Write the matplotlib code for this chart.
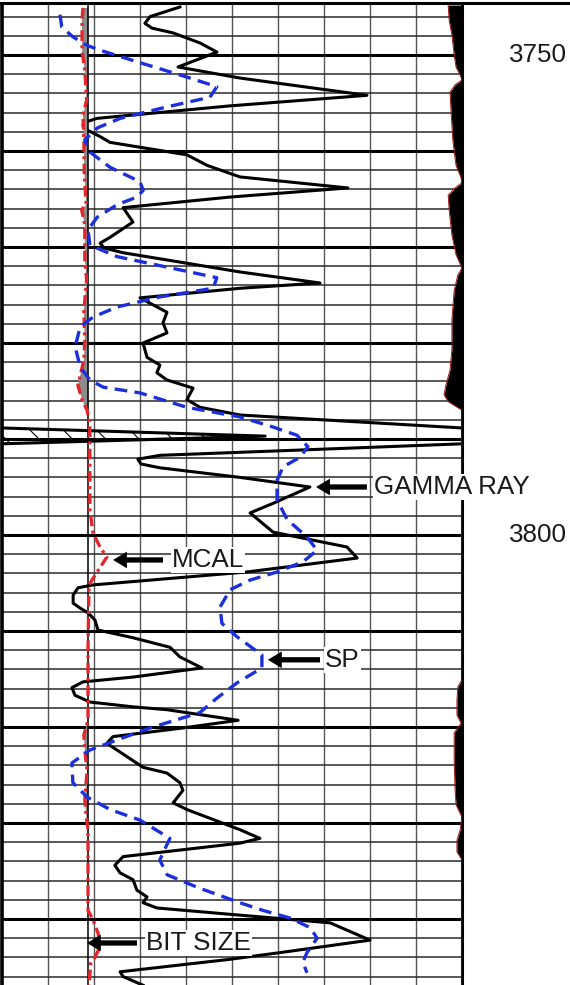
import numpy as np
import matplotlib.pyplot as plt

plt.rcParams['font.family'] = ['Liberation Sans', 'DejaVu Sans']
plt.rcParams['hatch.linewidth'] = 0.8

# ---- data read off the log ----
# gamma ray (API, 0-150 with 150-300 backup)
gr_depth = [3745.0, 3746.0, 3746.7, 3747.2, 3747.7, 3748.75, 3749.7, 3751.25, 3752.4, 3754.2,
            3755.3, 3756.25, 3756.6, 3757.0, 3757.3, 3757.8, 3758.5, 3759.1, 3760.4, 3761.5,
            3762.7, 3763.85, 3764.8, 3765.9, 3767.4, 3769.0, 3769.6, 3770.1, 3770.6, 3771.35,
            3772.6, 3773.75, 3774.3, 3775.3, 3776.8, 3777.9, 3778.95, 3780.0, 3781.5, 3782.3,
            3783.1, 3783.85, 3784.7, 3785.9, 3786.7, 3787.5, 3788.85, 3789.7, 3790.5, 3791.15,
            3791.7, 3792.1, 3792.6, 3793.0, 3794.0, 3795.0, 3796.7, 3797.7, 3799.7, 3801.25,
            3802.4, 3803.85, 3805.2, 3805.5, 3806.25, 3807.1, 3807.6, 3808.1, 3808.85, 3809.9,
            3810.7, 3811.7, 3812.7, 3813.85, 3814.8, 3815.3, 3815.9, 3816.7, 3817.4, 3817.9,
            3818.2, 3819.3, 3820.1, 3821.0, 3821.7, 3823.1, 3824.2, 3824.8, 3825.8, 3826.6,
            3827.9, 3828.6, 3829.4, 3830.7, 3831.6, 3832.1, 3833.5, 3834.4, 3835.2, 3835.9,
            3837.0, 3837.7, 3838.3, 3838.85, 3839.6, 3840.4, 3842.2, 3843.5, 3844.2, 3845.5,
            3846.0, 3846.9]
gr = [58.0, 48.3, 46.6, 48.9, 55.8, 64.6, 70.1, 57.4, 77.6, 119.0,
      74.3, 42.7, 31.0, 27.1, 26.4, 27.7, 32.0, 35.2, 60.3, 66.9,
      77.6, 112.8, 74.3, 39.5, 42.7, 35.2, 32.0, 33.3, 39.5, 53.8,
      77.6, 103.7, 77.6, 45.0, 53.8, 52.5, 53.8, 46.0, 47.3, 51.5,
      50.5, 53.8, 62.3, 60.3, 64.6, 77.6, 150.0, 235.8, 150.0, 97.2,
      51.5, 44.3, 45.3, 51.5, 77.6, 100.4, 88.4, 80.9, 88.4, 112.5,
      115.8, 79.9, 29.7, 24.8, 23.2, 23.2, 25.4, 28.0, 30.3, 31.3,
      42.7, 54.8, 58.0, 65.2, 42.7, 26.4, 22.8, 23.8, 28.7, 42.7,
      53.8, 77.0, 59.0, 36.2, 34.2, 40.8, 46.0, 53.8, 58.0, 59.0,
      55.8, 60.3, 66.9, 77.6, 84.1, 77.6, 39.5, 36.8, 38.5, 42.7,
      44.0, 47.3, 46.0, 50.5, 77.6, 107.0, 120.0, 90.7, 74.3, 38.5,
      39.5, 46.0]

# SP (mV, -80 to 20)
sp_depth = [3745.8, 3747.1, 3748.1, 3749.0, 3749.5, 3750.8, 3752.3, 3753.3, 3754.4, 3755.4,
            3756.6, 3757.6, 3758.85, 3760.1, 3761.7, 3763.2, 3764.1, 3764.8, 3765.6, 3766.9,
            3768.2, 3769.8, 3771.0, 3772.1, 3773.2, 3774.3, 3775.2, 3776.25, 3777.3, 3778.3,
            3780.4, 3782.5, 3783.85, 3784.6, 3785.2, 3786.7, 3787.7, 3788.75, 3789.6, 3790.8,
            3791.9, 3792.9, 3794.3, 3796.35, 3798.4, 3800.2, 3801.6, 3802.8, 3803.85, 3804.7,
            3805.7, 3807.5, 3809.2, 3810.6, 3812.5, 3813.85, 3815.4, 3817.0, 3818.5, 3820.1,
            3821.35, 3822.4, 3823.75, 3825.8, 3827.3, 3828.6, 3829.7, 3831.6, 3833.85, 3835.4,
            3836.8, 3838.3, 3839.1, 3839.9, 3840.9, 3842.0, 3843.5, 3844.5, 3845.6]
sp = [-67.4, -67.0, -64.6, -61.5, -58.7, -50.0, -39.8, -33.3, -34.8, -44.1,
      -54.3, -59.3, -62.0, -60.9, -56.5, -50.0, -49.3, -50.7, -55.0, -59.3,
      -61.3, -60.9, -55.0, -44.1, -33.3, -34.1, -45.7, -55.0, -60.2, -63.0,
      -64.1, -63.0, -60.9, -58.0, -50.0, -39.8, -28.3, -21.1, -15.9, -13.5,
      -15.2, -18.9, -20.2, -20.2, -18.0, -13.7, -11.5, -14.6, -20.2, -26.1,
      -30.4, -32.6, -32.2, -28.9, -23.5, -23.5, -28.9, -33.3, -37.0, -47.8,
      -55.0, -60.9, -64.8, -64.6, -61.5, -56.5, -50.0, -43.5, -45.7, -44.1,
      -37.0, -28.3, -23.3, -17.4, -13.0, -11.5, -13.7, -14.6, -13.7]

# micro caliper (in, 6-16) and bit size
bit_size = 7.875
mcal_depth = [3745.1, 3746.35, 3749.5, 3751.6, 3754.7, 3756.25, 3758.85, 3762.5, 3765.6, 3766.1,
              3767.7, 3771.35, 3773.4, 3776.6, 3779.7, 3781.8, 3784.4, 3785.9, 3787.0, 3788.5,
              3792.2, 3797.4, 3799.8, 3801.25, 3802.3, 3803.4, 3804.2, 3805.2, 3812.0, 3819.3,
              3820.8, 3822.4, 3824.5, 3827.6, 3829.2, 3830.7, 3839.1, 3840.1, 3841.5, 3842.9,
              3844.0, 3844.6, 3846.9]
mcal = [7.76, 7.74, 7.74, 7.80, 7.84, 7.76, 7.78, 7.79, 7.83, 7.73,
        7.80, 7.80, 7.84, 7.78, 7.80, 7.78, 7.65, 7.74, 7.85, 7.91,
        7.91, 7.91, 7.98, 8.13, 8.28, 8.13, 8.02, 7.89, 7.87, 7.87,
        7.78, 7.80, 7.85, 7.80, 7.83, 7.87, 7.87, 7.98, 8.09, 8.13,
        8.02, 7.93, 7.89]

# right-hand shaded curve (chart divisions, 0-10)
rt_depth = [3744.8, 3746.35, 3747.9, 3750.0, 3751.25, 3752.1, 3752.6, 3753.1, 3753.85, 3755.7,
            3758.85, 3761.5, 3762.8, 3763.3, 3763.85, 3764.6, 3766.1, 3768.75, 3770.8, 3772.2,
            3772.9, 3774.5, 3777.6, 3780.7, 3782.8, 3784.4, 3785.4, 3786.1, 3787.0, 3815.1,
            3815.8, 3817.2, 3818.75, 3819.6, 3820.6, 3823.4, 3826.6, 3828.1, 3829.4, 3830.7,
            3831.8, 3833.0, 3833.85, 3846.9]
rt = [9.70, 9.72, 9.78, 9.83, 9.87, 9.96, 10.0, 9.85, 9.74, 9.76,
      9.80, 9.87, 9.98, 10.0, 9.85, 9.70, 9.72, 9.78, 9.87, 10.0,
      9.91, 9.83, 9.78, 9.78, 9.74, 9.65, 9.61, 9.70, 10.0, 10.0,
      9.91, 9.89, 9.89, 9.98, 9.83, 9.83, 9.85, 9.87, 10.0, 9.96,
      9.89, 9.89, 10.0, 10.0]

depth_labels = [3750, 3800]

# curve labels: text, depth, arrow tip, arrow tail, text start (GR scale)
labels = ['GAMMA RAY', 'MCAL', 'SP', 'BIT SIZE']
label_depth = [3795.0, 3802.6, 3813.0, 3842.5]
label_tip = [102.4, 36.2, 86.7, 27.7]
label_tail = [119.0, 52.5, 103.7, 44.0]
label_x = [121.3, 55.4, 105.3, 47.0]

gr = np.array(gr)
gr_depth = np.array(gr_depth)
mcal = np.array(mcal)
mcal_depth = np.array(mcal_depth)

fig = plt.figure(figsize=(5.7, 9.85), dpi=100)
ax = fig.add_axes([2 / 570, 0, 460 / 570, 980 / 985])
ax.set_xlim(0, 150)
ax.set_ylim(3800 + 450 / 9.6, 3750 - 50 / 9.6)

# grid
ax.set_xticks(np.arange(0, 151, 15))
ax.set_yticks(np.arange(3750, 3850, 10))
ax.set_yticks(np.arange(3746, 3848, 2), minor=True)
ax.tick_params(which='both', length=0, labelbottom=False, labelleft=False)
ax.grid(axis='x', color='#555555', lw=1.0)
ax.grid(axis='y', which='major', color='k', lw=2.2)
ax.grid(axis='y', which='minor', color='#2a2a2a', lw=1.1)
ax.set_axisbelow(True)
ax.spines['top'].set_visible(False)
ax.spines['bottom'].set_visible(False)
ax.spines['left'].set_linewidth(2.6)
ax.spines['right'].set_linewidth(2.2)

# gamma ray with backup wrap
ax.plot(gr, gr_depth, color='k', lw=2.2)
ax.plot(gr - 150, gr_depth, color='k', lw=2.2)
ax.fill_betweenx(gr_depth, 0, np.clip(gr - 150, 0, None), facecolor='none',
                 edgecolor='k', hatch='\\', lw=0)

# caliper track
ax_cal = ax.twiny()
ax_cal.set_xlim(6, 16)
ax_cal.fill_betweenx(mcal_depth, mcal, bit_size, where=mcal < bit_size, interpolate=True,
                     color='#8c8c8c', lw=0)
ax_cal.axvline(bit_size, color='k', lw=1.1)
ax_cal.plot(mcal, mcal_depth, color='#e3262b', lw=2.4, ls=(0, (3.2, 1.3, 0.9, 1.3)))

# SP
ax_sp = ax.twiny()
ax_sp.set_xlim(-80, 20)
ax_sp.plot(sp, sp_depth, color='#1b2fdc', lw=2.4, ls=(0, (3.8, 2.2)))

# right shaded curve
ax_rt = ax.twiny()
ax_rt.set_xlim(0, 10)
ax_rt.fill_betweenx(rt_depth, rt, 10, color='k', lw=0)
ax_rt.plot(rt, rt_depth, color='#a01818', lw=0.7)

for a in [ax_cal, ax_sp, ax_rt]:
    a.tick_params(which='both', top=False, labeltop=False, bottom=False, labelbottom=False)
    for s in a.spines.values():
        s.set_visible(False)

# curve labels with arrows
for lbl, dep, tip, tail, tx in zip(labels, label_depth, label_tip, label_tail, label_x):
    ax_rt.annotate('', xy=(tip, dep), xytext=(tail, dep), xycoords=ax.transData,
                   textcoords=ax.transData, annotation_clip=False,
                   arrowprops=dict(arrowstyle='simple,head_length=1.0,head_width=1.2,tail_width=0.38',
                                   fc='k', ec='none', shrinkA=0, shrinkB=0, mutation_scale=10))
    ax_rt.text(tx, dep, lbl, transform=ax.transData, fontsize=18.7, ha='left', va='center',
               color='#1a1a1a', clip_on=False,
               bbox=dict(facecolor='white', edgecolor='none', pad=1.0))

# depth numbers
for d in depth_labels:
    ax.text(1.165, d, str(d), transform=ax.get_yaxis_transform(), fontsize=18.7,
            ha='center', va='center', color='#1a1a1a', clip_on=False)

fig.add_artist(plt.Line2D([0, 1], [1 - 3 / 985, 1 - 3 / 985], transform=fig.transFigure,
                          color='k', lw=2.2))

plt.savefig('out.png', dpi=100)
